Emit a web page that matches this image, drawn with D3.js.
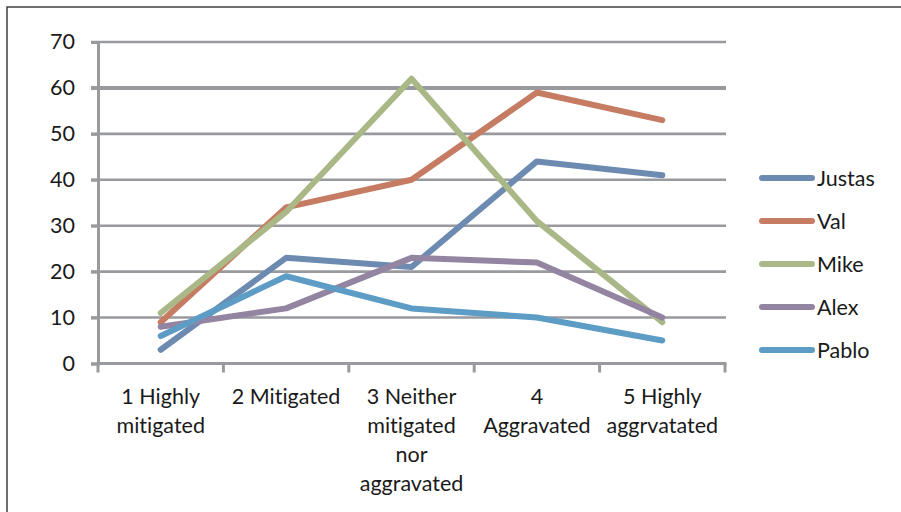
<!DOCTYPE html>
<html><head><meta charset="utf-8">
<script src="https://cdn.jsdelivr.net/npm/d3@7"></script>
<style>body{margin:0;background:#fff}svg{display:block}text{font-family:Lato,"Open Sans",sans-serif;fill:#1a1a1a;font-variant-ligatures:none;font-feature-settings:"liga" 0}</style>
</head><body>
<svg id="c" width="901" height="512"></svg>
<script>
const categories = [["1 Highly","mitigated"],["2 Mitigated"],["3 Neither","mitigated","nor","aggravated"],["4","Aggravated"],["5 Highly","aggrvatated"]];
const yTicks = [0,10,20,30,40,50,60,70];
const Justas = [3,23,21,44,41];
const Val = [9,34,40,59,53];
const Mike = [11,33,62,31,9];
const Alex = [8,12,23,22,10];
const Pablo = [6,19,12,10,5];
const seriesNames = ["Justas","Val","Mike","Alex","Pablo"];
const seriesValues = [Justas,Val,Mike,Alex,Pablo];
const colors = ["#6d8bb1","#c57c63","#aab887","#9385a2","#5d9cc5"];
const FS = 21.5;

const svg = d3.select("#c");
svg.append("rect").attr("x",7).attr("y",7).attr("width",900).attr("height",520).attr("fill","none").attr("stroke","#222").attr("stroke-width",1.3);

const x = d3.scaleBand().domain(d3.range(5)).range([98,725]);
const y = d3.scaleLinear().domain([0,70]).range([363.5,42]);

// gridlines
svg.append("g").selectAll("line").data(yTicks.filter(d=>d>0)).join("line")
  .attr("x1",91).attr("x2",726).attr("y1",d=>y(d)).attr("y2",d=>y(d))
  .attr("stroke","#999a9e").attr("stroke-width",d=>d===60?4:2.6);

// y axis
const ya = svg.append("g").attr("transform","translate(98,0)")
  .call(d3.axisLeft(y).tickValues(yTicks).tickSize(7).tickPadding(16));
ya.select(".domain").attr("stroke","#999a9e").attr("stroke-width",3);
ya.selectAll(".tick line").attr("stroke","#999a9e").attr("stroke-width",3);
ya.selectAll(".tick text").attr("font-size",FS).attr("font-family","Lato").attr("fill","#1a1a1a");

// x axis
const xa = svg.append("g").attr("transform","translate(0,363.5)");
xa.append("line").attr("x1",96.5).attr("x2",726.5).attr("y1",0).attr("y2",0).attr("stroke","#999a9e").attr("stroke-width",3);
xa.selectAll("line.t").data(d3.range(6)).join("line").attr("class","t")
  .attr("x1",d=>98+d*x.bandwidth()).attr("x2",d=>98+d*x.bandwidth())
  .attr("y1",0).attr("y2",9).attr("stroke","#999a9e").attr("stroke-width",3);
xa.selectAll("text.l").data(categories).join("text").attr("class","l")
  .attr("text-anchor","middle").attr("font-size",FS)
  .attr("transform",(d,i)=>`translate(${x(i)+x.bandwidth()/2},0)`)
  .selectAll("tspan").data(d=>d).join("tspan")
  .attr("x",0).attr("y",(d,j)=>40+j*29).text(d=>d);

// lines
const line = d3.line().x((d,i)=>x(i)+x.bandwidth()/2).y(d=>y(d));
svg.append("g").selectAll("path").data(seriesValues).join("path")
  .attr("d",d=>line(d)).attr("fill","none")
  .attr("stroke",(d,i)=>colors[i]).attr("stroke-width",6)
  .attr("stroke-linejoin","round").attr("stroke-linecap","round");

// legend
const lg = svg.append("g").selectAll("g").data(seriesNames).join("g")
  .attr("transform",(d,i)=>`translate(0,${178+i*43})`);
lg.append("line").attr("x1",762).attr("x2",812).attr("y1",0).attr("y2",0)
  .attr("stroke",(d,i)=>colors[i]).attr("stroke-width",6).attr("stroke-linecap","round");
lg.append("text").attr("x",817).attr("y",0).attr("dy","0.36em").attr("font-size",FS).text(d=>d);
</script>
</body></html>
